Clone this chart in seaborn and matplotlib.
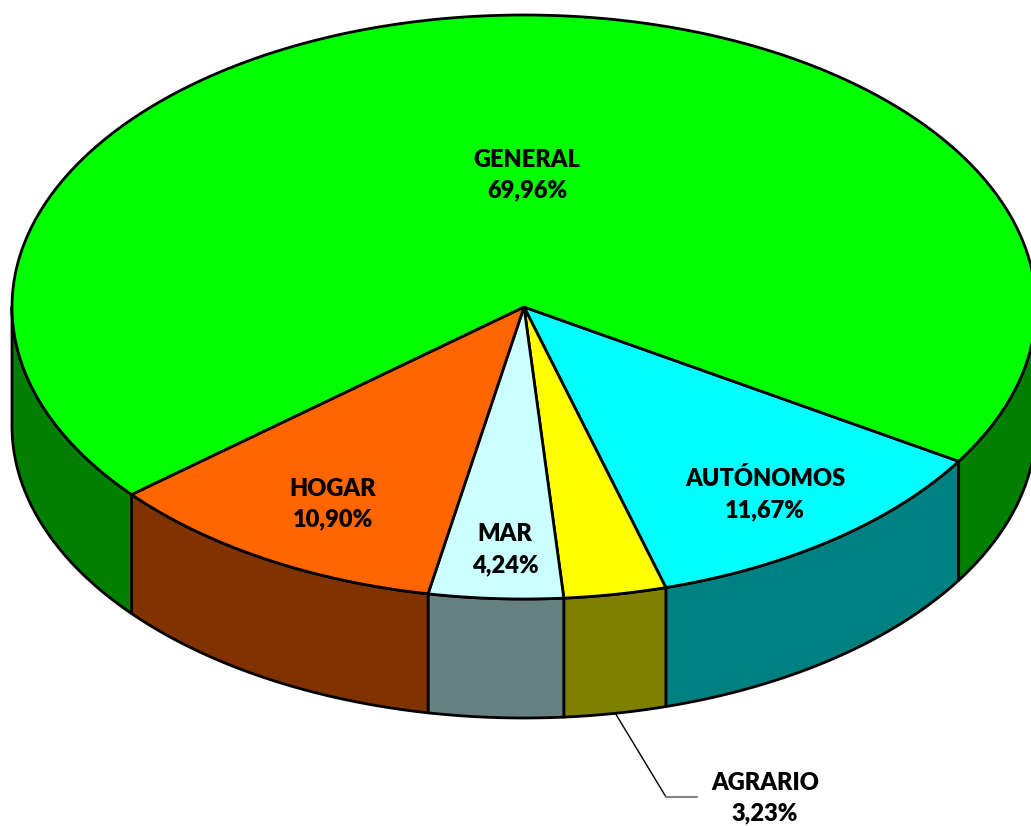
import numpy as np
import matplotlib.pyplot as plt
import seaborn as sns
from matplotlib.patches import Polygon

# datos (porcentaje por régimen)
regimenes = ["AUTÓNOMOS", "AGRARIO", "MAR", "HOGAR", "GENERAL"]
porcentajes = [11.67, 3.23, 4.24, 10.90, 69.96]
color_sup = ["#00FFFF", "#FFFF00", "#CCFFFF", "#FF6600", "#00FF00"]
color_lado = ["#008080", "#808000", "#658080", "#803300", "#007F00"]

sns.set_theme(style="white")
plt.rcParams['font.family'] = ['Lato', 'DejaVu Sans']

# geometría de la tarta (pixeles)
cx, cy = 524, 307
a, b = 512, 292
fondo = 119
inicio = 31.9  # grados, sentido horario en pantalla


def punto(t, dz=0):
    r = np.deg2rad(t)
    return cx + a * np.cos(r), cy + b * np.sin(r) + dz


def arco(t1, t2, dz=0):
    ts = np.linspace(t1, t2, max(int(abs(t2 - t1) * 2), 2))
    return [punto(t, dz) for t in ts]


fig = plt.figure(figsize=(10.31, 8.26), dpi=100)
ax = fig.add_axes([0, 0, 1, 1])
ax.set_xlim(0, 1031)
ax.set_ylim(826, 0)
ax.axis("off")

angulos = np.cumsum([0] + porcentajes) * 3.6 + inicio

# caras laterales (solo la mitad frontal, 0-180 grados)
for i in range(len(regimenes)):
    t1, t2 = angulos[i], angulos[i + 1]
    for off in (0, 360):
        lo, hi = max(t1, off), min(t2, off + 180)
        if hi <= lo:
            continue
        pts = arco(lo, hi) + arco(lo, hi, fondo)[::-1]
        ax.add_patch(Polygon(pts, closed=True, facecolor=color_lado[i],
                             edgecolor="black", lw=2, joinstyle="round"))

# cara superior
for i in range(len(regimenes)):
    t1, t2 = angulos[i], angulos[i + 1]
    pts = [(cx, cy)] + arco(t1, t2)
    ax.add_patch(Polygon(pts, closed=True, facecolor=color_sup[i],
                         edgecolor="black", lw=2, joinstyle="round"))

# etiquetas (posición relativa al centro, en fracción de los semiejes)
estilo = dict(ha="center", va="center", fontsize=17, fontweight="heavy",
              linespacing=1.5, color="black")
pos_rel = {"AUTÓNOMOS": (0.471, 0.64), "MAR": (-0.037, 0.832),
           "HOGAR": (-0.373, 0.675), "GENERAL": (0.006, -0.452)}
for i, nombre in enumerate(regimenes):
    texto = f"{nombre}\n{porcentajes[i]:.2f}%".replace(".", ",")
    tm = (angulos[i] + angulos[i + 1]) / 2
    if nombre == "AGRARIO":
        x0, y0 = punto(tm, fondo)
        ax.plot([x0, 666], [y0, 797], color="black", lw=1)
        ax.plot([666, 697], [797, 797], color="#808080", lw=1.5)
        ax.text(765, 798, texto, **estilo)
        continue
    fx, fy = pos_rel[nombre]
    ax.text(cx + a * fx, cy + b * fy, texto, **estilo)

fig.savefig("out.png", dpi=100)
